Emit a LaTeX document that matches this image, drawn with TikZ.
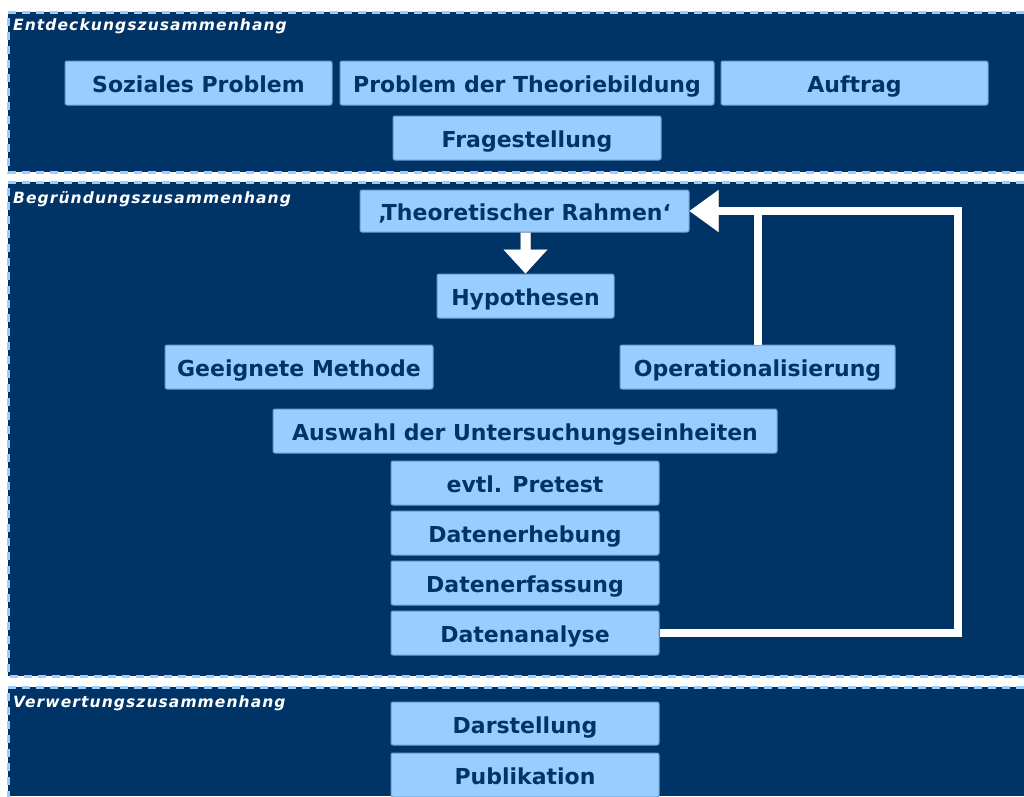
\documentclass[tikz,border=0pt]{standalone}
\usepackage{fontspec}
\setmainfont{DejaVu Sans}
\newfontfamily\lblfont[LetterSpace=7]{DejaVu Sans}
\usetikzlibrary{calc}
\definecolor{navy}{HTML}{003366}
\definecolor{lblue}{HTML}{99CCFF}
\definecolor{bedge}{HTML}{6F9DD0}
\begin{document}
\begin{tikzpicture}[x=1pt,y=-1pt,
  panel/.style={fill=navy},
  pborder/.style={draw=lblue, line width=3pt, dash pattern=on 8pt off 6pt},
  box/.style={draw=bedge, line width=1pt, fill=lblue, rounded corners=2pt, text=navy,
    font=\fontsize{22}{26}\selectfont\bfseries, inner sep=0pt, minimum height=44pt,
    text height=19pt, text depth=0pt},
  plabel/.style={anchor=base west, text=white, font=\lblfont\fontsize{15.5}{18}\selectfont\bfseries\itshape, inner sep=0pt},
  conn/.style={draw=white, line width=8pt, line join=miter},
  connshadow/.style={draw=black!45, line width=8pt, line join=miter},
  headfill/.style={fill=white},
  headshadow/.style={fill=black!45},
]
\useasboundingbox (0,0) rectangle (1024,796);
\fill[white] (0,0) rectangle (1024,796);

% panels
\fill[panel] (8,12) rectangle (1024,172);
\draw[pborder] (1024,12) -- (8,12) -- (8,172) -- (1024,172);
\fill[panel] (8,182) rectangle (1024,676);
\draw[pborder] (1024,182) -- (8,182) -- (8,676) -- (1024,676);
\fill[panel] (8,687) rectangle (1024,796);
\draw[pborder] (1024,687) -- (8,687) -- (8,800);

\node[plabel] (l1) at (13,30) {Entdeckungszusammenhang};
\node[plabel] (l2) at (13,203) {Begründungszusammenhang};
\node[plabel] (l3) at (13,707) {Verwertungszusammenhang};

% boxes
\node[box, minimum width=267pt] (soz) at (198.5,83) {Soziales Problem};
\node[box, minimum width=374pt] (ptb) at (527,83) {Problem der Theoriebildung};
\node[box, minimum width=267pt] (auf) at (854.5,83) {Auftrag};
\node[box, minimum width=268pt] (frage) at (527,138) {Fragestellung};

\node[box, minimum width=329pt, minimum height=42pt] (rahmen) at (524.5,211) {‚Theoretischer Rahmen‘};
\node[box, minimum width=177pt] (hyp) at (525.5,296) {Hypothesen};
\node[box, minimum width=268pt] (meth) at (299,367) {Geeignete Methode};
\node[box, minimum width=275pt] (oper) at (757.5,367) {Operationalisierung};
\node[box, minimum width=504pt] (ausw) at (525,431) {Auswahl der Untersuchungseinheiten};
\node[box, minimum width=268pt] (pre) at (525,483) {evtl. Pretest};
\node[box, minimum width=268pt] (erh) at (525,533) {Datenerhebung};
\node[box, minimum width=268pt] (erf) at (525,583) {Datenerfassung};
\node[box, minimum width=268pt] (ana) at (525,633) {Datenanalyse};

\node[box, minimum width=268pt, minimum height=43pt] (dar) at (525,723.5) {Darstellung};
\node[box, minimum width=268pt] (pub) at (525,775) {Publikation};

% connectors
\coordinate (rr) at (958,633);
\begin{scope}[shift={(1.5,1.5)}]
  \fill[headshadow] (rahmen.south -| hyp.north) ++(-5,0) -- ($(hyp.north)+(-5,-24)$) -- ($(hyp.north)+(-22,-24)$) -- (hyp.north) -- ($(hyp.north)+(22,-24)$) -- ($(hyp.north)+(5,-24)$) -- ($(rahmen.south -| hyp.north)+(5,0)$) -- cycle;
  \path[connshadow] (ana.east) -- (ana.east -| rr) -- (rahmen.east -| rr) -- ($(rahmen.east)+(28,0)$);
  \path[connshadow] (oper.north) -- (oper.north |- rahmen.east);
  \fill[headshadow] (rahmen.east) -- ($(rahmen.east)+(29,-21)$) -- ($(rahmen.east)+(29,21)$) -- cycle;
\end{scope}
\fill[headfill] (rahmen.south -| hyp.north) ++(-5,0) -- ($(hyp.north)+(-5,-24)$) -- ($(hyp.north)+(-22,-24)$) -- (hyp.north) -- ($(hyp.north)+(22,-24)$) -- ($(hyp.north)+(5,-24)$) -- ($(rahmen.south -| hyp.north)+(5,0)$) -- cycle;
\path[conn] (ana.east) -- (ana.east -| rr) -- (rahmen.east -| rr) -- ($(rahmen.east)+(28,0)$);
\path[conn] (oper.north) -- (oper.north |- rahmen.east);
\fill[headfill] (rahmen.east) -- ($(rahmen.east)+(29,-21)$) -- ($(rahmen.east)+(29,21)$) -- cycle;
\end{tikzpicture}
\end{document}
